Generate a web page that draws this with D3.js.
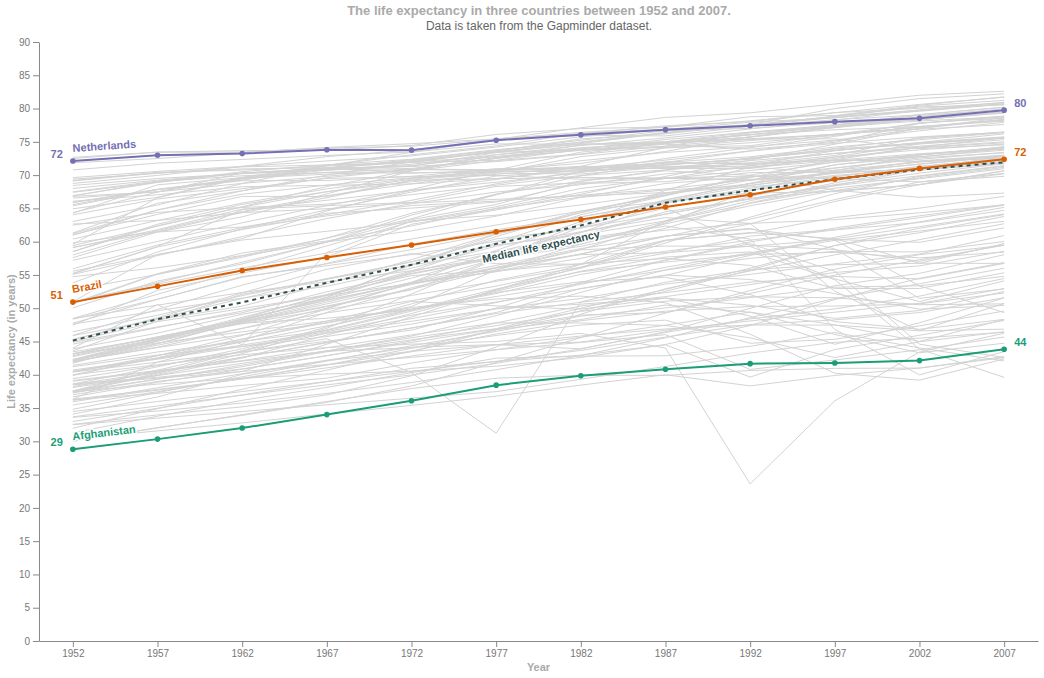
<!DOCTYPE html>
<html>
<head>
<meta charset="utf-8">
<script src="https://cdn.jsdelivr.net/npm/d3@7"></script>
<style>
body{margin:0;background:#fff;font-family:"Liberation Sans",Arial,sans-serif;}
.axis path,.axis line{stroke:#888;}
.axis text{fill:#777;font-size:10px;font-family:"Liberation Sans",Arial,sans-serif;}
.halo{paint-order:stroke;stroke:#fff;stroke-width:3px;stroke-linejoin:round;}
</style>
</head>
<body>
<svg id="chart" width="1044" height="678"></svg>
<script>
/* data: gapminder life expectancy */
var years=[1952,1957,1962,1967,1972,1977,1982,1987,1992,1997,2002,2007];

var countries=["Afghanistan","Albania","Algeria","Angola","Argentina","Australia","Austria","Bahrain","Bangladesh","Belgium","Benin","Bolivia","Bosnia and Herzegovina","Botswana","Brazil","Bulgaria","Burkina Faso","Burundi","Cambodia","Cameroon","Canada","Central African Republic","Chad","Chile","China","Colombia","Comoros","Congo, Dem. Rep.","Congo, Rep.","Costa Rica","Cote d'Ivoire","Croatia","Cuba","Czech Republic","Denmark","Djibouti","Dominican Republic","Ecuador","Egypt","El Salvador","Equatorial Guinea","Eritrea","Ethiopia","Finland","France","Gabon","Gambia","Germany","Ghana","Greece","Guatemala","Guinea","Guinea-Bissau","Haiti","Honduras","Hong Kong, China","Hungary","Iceland","India","Indonesia","Iran","Iraq","Ireland","Israel","Italy","Jamaica","Japan","Jordan","Kenya","Korea, Dem. Rep.","Korea, Rep.","Kuwait","Lebanon","Lesotho","Liberia","Libya","Madagascar","Malawi","Malaysia","Mali","Mauritania","Mauritius","Mexico","Mongolia","Montenegro","Morocco","Mozambique","Myanmar","Namibia","Nepal","Netherlands","New Zealand","Nicaragua","Niger","Nigeria","Norway","Oman","Pakistan","Panama","Paraguay","Peru","Philippines","Poland","Portugal","Puerto Rico","Reunion","Romania","Rwanda","Sao Tome and Principe","Saudi Arabia","Senegal","Serbia","Sierra Leone","Singapore","Slovak Republic","Slovenia","Somalia","South Africa","Spain","Sri Lanka","Sudan","Swaziland","Sweden","Switzerland","Syria","Taiwan","Tanzania","Thailand","Togo","Trinidad and Tobago","Tunisia","Turkey","Uganda","United Kingdom","United States","Uruguay","Venezuela","Vietnam","West Bank and Gaza","Yemen, Rep.","Zambia","Zimbabwe"];

var lifeExp=[
[28.801,30.332,31.997,34.02,36.088,38.438,39.854,40.822,41.674,41.763,42.129,43.828],
[55.23,59.28,64.82,66.22,67.69,68.93,70.42,72,71.581,72.95,75.651,76.423],
[43.077,45.685,48.303,51.407,54.518,58.014,61.368,65.799,67.744,69.152,70.994,72.301],
[30.015,31.999,34,35.985,37.928,39.483,39.942,39.906,40.647,40.963,41.003,42.731],
[62.485,64.399,65.142,65.634,67.065,68.481,69.942,70.774,71.868,73.275,74.34,75.32],
[69.12,70.33,70.93,71.1,71.93,73.49,74.74,76.32,77.56,78.83,80.37,81.235],
[66.8,67.48,69.54,70.14,70.63,72.17,73.18,74.94,76.04,77.51,78.98,79.829],
[50.939,53.832,56.923,59.923,63.3,65.593,69.052,70.75,72.601,73.925,74.795,75.635],
[37.484,39.348,41.216,43.453,45.252,46.923,50.009,52.819,56.018,59.412,62.013,64.062],
[68,69.24,70.25,70.94,71.44,72.8,73.93,75.35,76.46,77.53,78.32,79.441],
[38.223,40.358,42.618,44.885,47.014,49.19,50.904,52.337,53.919,54.777,54.406,56.728],
[40.414,41.89,43.428,45.032,46.714,50.023,53.859,57.251,59.957,62.05,63.883,65.554],
[53.82,58.45,61.93,64.79,67.45,69.86,70.69,71.14,72.178,73.244,74.09,74.852],
[47.622,49.618,51.52,53.298,56.024,59.319,61.484,63.622,62.745,52.556,46.634,50.728],
[50.917,53.285,55.665,57.632,59.504,61.489,63.336,65.205,67.057,69.388,71.006,72.39],
[59.6,66.61,69.51,70.42,70.9,70.81,71.08,71.34,71.19,70.32,72.14,73.005],
[31.975,34.906,37.814,40.697,43.591,46.137,48.122,49.557,50.26,50.324,50.65,52.295],
[39.031,40.533,42.045,43.548,44.057,45.91,47.471,48.211,44.736,45.326,47.36,49.58],
[39.417,41.366,43.415,45.415,40.317,31.22,50.957,53.914,55.803,56.534,56.752,59.723],
[38.523,40.428,42.643,44.799,47.049,49.355,52.961,54.985,54.314,52.199,49.856,50.43],
[68.75,69.96,71.3,72.13,72.88,74.21,75.76,76.86,77.95,78.61,79.77,80.653],
[35.463,37.464,39.475,41.478,43.457,46.775,48.295,50.485,49.396,46.066,43.308,44.741],
[38.092,39.881,41.716,43.601,45.569,47.383,49.517,51.051,51.724,51.573,50.525,50.651],
[54.745,56.074,57.924,60.523,63.441,67.052,70.565,72.492,74.126,75.816,77.86,78.553],
[44,50.549,44.501,58.381,63.119,63.967,65.525,67.274,68.69,70.426,72.028,72.961],
[50.643,55.118,57.863,59.963,61.623,63.837,66.653,67.768,68.421,70.313,71.682,72.889],
[40.715,42.46,44.467,46.472,48.944,50.939,52.933,54.926,57.939,60.66,62.974,65.152],
[39.143,40.652,42.122,44.056,45.989,47.804,47.784,47.412,45.548,42.587,44.966,46.462],
[42.111,45.053,48.435,52.04,54.907,55.625,56.695,57.47,56.433,52.962,52.97,55.322],
[57.206,60.026,62.842,65.424,67.849,70.75,73.45,74.752,75.713,77.26,78.123,78.782],
[40.477,42.469,44.93,47.35,49.801,52.374,53.983,54.655,52.044,47.991,46.832,48.328],
[61.21,64.77,67.13,68.5,69.61,70.64,70.46,71.52,72.527,73.68,74.876,75.748],
[59.421,62.325,65.246,68.29,70.723,72.649,73.717,74.174,74.414,76.151,77.158,78.273],
[66.87,69.03,69.9,70.38,70.29,70.71,70.96,71.58,72.4,74.01,75.51,76.486],
[70.78,71.81,72.35,72.96,73.47,74.69,74.63,74.8,75.33,76.11,77.18,78.332],
[34.812,37.328,39.693,42.074,44.366,46.519,48.812,50.04,51.604,53.157,53.373,54.791],
[45.928,49.828,53.459,56.751,59.631,61.788,63.727,66.046,68.457,69.957,70.847,72.235],
[48.357,51.356,54.64,56.678,58.796,61.31,64.342,67.231,69.613,72.312,74.173,74.994],
[41.893,44.444,46.992,49.293,51.137,53.319,56.006,59.797,63.674,67.217,69.806,71.338],
[45.262,48.57,52.307,55.855,58.207,56.696,56.604,63.154,66.798,69.535,70.734,71.878],
[34.482,35.983,37.485,38.987,40.516,42.024,43.662,45.664,47.545,48.245,49.348,51.579],
[35.928,38.047,40.158,42.189,44.142,44.535,43.89,46.453,49.991,53.378,55.24,58.04],
[34.078,36.667,40.059,42.115,43.515,44.51,44.916,46.684,48.091,49.402,50.725,52.947],
[66.55,67.49,68.75,69.83,70.87,72.52,74.55,74.83,75.7,77.13,78.37,79.313],
[67.41,68.93,70.51,71.55,72.38,73.83,74.89,76.34,77.46,78.64,79.59,80.657],
[37.003,38.999,40.489,44.598,48.69,52.79,56.564,60.19,61.366,60.461,56.761,56.735],
[30,32.065,33.896,35.857,38.308,41.842,45.58,49.265,52.644,55.861,58.041,59.448],
[67.5,69.1,70.3,70.8,71,72.5,73.8,74.847,76.07,77.34,78.67,79.406],
[43.149,44.779,46.452,48.072,49.875,51.756,53.744,55.729,57.501,58.556,58.453,60.022],
[65.86,67.86,69.51,71,72.34,73.68,75.24,76.67,77.03,77.869,78.256,79.483],
[42.023,44.142,46.954,50.016,53.738,56.029,58.137,60.782,63.373,66.322,68.978,70.259],
[33.609,34.558,35.753,37.197,38.842,40.762,42.891,45.552,48.576,51.455,53.676,56.007],
[32.5,33.489,34.488,35.492,36.486,37.465,39.327,41.245,43.266,44.873,45.504,46.388],
[37.579,40.696,43.59,46.243,48.042,49.923,51.461,53.636,55.089,56.671,58.137,60.916],
[41.912,44.665,48.041,50.924,53.884,57.402,60.909,64.492,66.399,67.659,68.565,70.198],
[60.96,64.75,67.65,70,72,73.6,75.45,76.2,77.601,80,81.495,82.208],
[64.03,66.41,67.96,69.5,69.76,69.95,69.39,69.58,69.17,71.04,72.59,73.338],
[72.49,73.47,73.68,73.73,74.46,76.11,76.99,77.23,78.77,78.95,80.5,81.757],
[37.373,40.249,43.605,47.193,50.651,54.208,56.596,58.553,60.223,61.765,62.879,64.698],
[37.468,39.918,42.518,45.964,49.203,52.702,56.159,60.137,62.681,66.041,68.588,70.65],
[44.869,47.181,49.325,52.469,55.234,57.702,59.62,63.04,65.742,68.042,69.451,70.964],
[45.32,48.437,51.457,54.459,56.95,60.413,62.038,65.044,59.461,58.811,57.046,59.545],
[66.91,68.9,70.29,71.08,71.28,72.03,73.1,74.36,75.467,76.122,77.783,78.885],
[65.39,67.84,69.39,70.75,71.63,73.06,74.45,75.6,76.93,78.269,79.696,80.745],
[65.94,67.81,69.24,71.06,72.19,73.48,74.98,76.42,77.44,78.82,80.24,80.546],
[58.53,62.61,65.61,67.51,69,70.11,71.21,71.77,71.766,72.262,72.047,72.567],
[63.03,65.5,68.73,71.43,73.42,75.38,77.11,78.67,79.36,80.69,82,82.603],
[43.158,45.669,48.126,51.629,56.528,61.134,63.739,65.869,68.015,69.772,71.263,72.535],
[42.27,44.686,47.949,50.654,53.559,56.155,58.766,59.339,59.285,54.407,50.992,54.11],
[50.056,54.081,56.656,59.942,63.983,67.159,69.1,70.647,69.978,67.727,66.662,67.297],
[47.453,52.681,55.292,57.716,62.612,64.766,67.123,69.81,72.244,74.647,77.045,78.623],
[55.565,58.033,60.47,64.624,67.712,69.343,71.309,74.174,75.19,76.156,76.904,77.588],
[55.928,59.489,62.094,63.87,65.421,66.099,66.983,67.926,69.292,70.265,71.028,71.993],
[42.138,45.047,47.747,48.492,49.767,52.208,55.078,57.18,59.685,55.558,44.593,42.592],
[38.48,39.486,40.502,41.536,42.614,43.764,44.852,46.027,40.802,42.221,43.753,45.678],
[42.723,45.289,47.808,50.227,52.773,57.442,62.155,66.234,68.755,71.555,72.737,73.952],
[36.681,38.865,40.848,42.881,44.851,46.881,48.969,49.35,52.214,54.978,57.286,59.443],
[36.256,37.207,38.41,39.487,41.766,43.767,45.642,47.457,49.42,47.495,45.009,48.303],
[48.463,52.102,55.737,59.371,63.01,65.256,68,69.5,70.693,71.938,73.044,74.241],
[33.685,35.307,36.936,38.487,39.977,41.714,43.916,46.364,48.388,49.903,51.818,54.467],
[40.543,42.338,44.248,46.289,48.437,50.852,53.599,56.145,58.333,60.43,62.247,64.164],
[50.986,58.089,60.246,61.557,62.944,64.93,66.711,68.74,69.745,70.736,71.954,72.801],
[50.789,55.19,58.299,60.11,62.361,65.032,67.405,69.498,71.455,73.67,74.902,76.195],
[42.244,45.248,48.251,51.253,53.754,55.491,57.489,60.222,61.271,63.625,65.033,66.803],
[59.164,61.448,63.728,67.178,70.636,73.066,74.101,74.865,75.435,75.445,73.981,74.543],
[42.873,45.423,47.924,50.335,52.862,55.73,59.65,62.677,65.393,67.66,69.615,71.164],
[31.286,33.779,36.161,38.113,40.328,42.495,42.795,42.861,44.284,46.344,44.026,42.082],
[36.319,41.905,45.108,49.379,53.07,56.059,58.056,58.339,59.32,60.328,59.908,62.069],
[41.725,45.226,48.386,51.159,53.867,56.437,58.968,60.835,61.999,58.909,51.479,52.906],
[36.157,37.686,39.393,41.472,43.971,46.748,49.594,52.537,55.727,59.426,61.34,63.785],
[72.13,72.99,73.23,73.82,73.75,75.24,76.05,76.83,77.42,78.03,78.53,79.762],
[69.39,70.26,71.24,71.52,71.89,72.22,73.84,74.32,76.33,77.55,79.11,80.204],
[42.314,45.432,48.632,51.884,55.151,57.47,59.298,62.008,65.843,68.426,70.836,72.899],
[37.444,38.598,39.487,40.118,40.546,41.291,42.598,44.555,47.391,51.313,54.496,56.867],
[36.324,37.802,39.36,41.04,42.821,44.514,45.826,46.886,47.472,47.464,46.608,46.859],
[72.67,73.44,73.47,74.08,74.34,75.37,75.97,75.89,77.32,78.32,79.05,80.196],
[37.578,40.08,43.165,46.988,52.143,57.367,62.728,67.734,71.197,72.499,74.193,75.64],
[43.436,45.557,47.67,49.8,51.929,54.043,56.158,58.245,60.838,61.818,63.61,65.483],
[55.191,59.201,61.817,64.071,66.216,68.681,70.472,71.523,72.462,73.738,74.712,75.537],
[62.649,63.196,64.361,64.951,65.815,66.353,66.874,67.378,68.225,69.4,70.755,71.752],
[43.902,46.263,49.096,51.445,55.448,58.447,61.406,64.134,66.458,68.386,69.906,71.421],
[47.752,51.334,54.757,56.393,58.065,60.06,62.082,64.151,66.458,68.564,70.303,71.688],
[61.31,65.77,67.64,69.61,70.85,70.67,71.32,70.98,70.99,72.75,74.67,75.563],
[59.82,61.51,64.39,66.6,69.26,70.41,72.77,74.06,74.86,75.97,77.29,78.098],
[64.28,68.54,69.62,71.1,72.16,73.44,73.75,74.63,73.911,74.917,77.778,78.746],
[52.724,55.09,57.666,60.542,64.274,67.064,69.885,71.913,73.615,74.772,75.744,76.442],
[61.05,64.1,66.8,66.8,69.21,69.46,69.66,69.53,69.36,69.72,71.322,72.476],
[40,41.5,43,44.1,44.6,45,46.218,44.02,23.599,36.087,43.413,46.242],
[46.471,48.945,51.893,54.425,56.48,58.55,60.351,61.728,62.742,63.306,64.337,65.528],
[39.875,42.868,45.914,49.901,53.886,58.69,63.012,66.295,68.768,70.533,71.626,72.777],
[37.278,39.329,41.454,43.563,45.815,48.879,52.379,55.769,58.196,60.187,61.6,63.062],
[57.996,61.685,64.531,66.914,68.7,70.3,70.162,71.218,71.659,72.232,73.213,74.002],
[30.331,31.57,32.767,34.113,35.4,36.788,38.445,40.006,38.333,39.897,41.012,42.568],
[60.396,63.179,65.798,67.946,69.521,70.795,71.76,73.56,75.788,77.158,78.77,79.972],
[64.36,67.45,70.33,70.98,70.35,70.45,70.8,71.08,71.38,72.71,73.8,74.663],
[65.57,67.85,69.15,69.18,69.82,70.97,71.063,72.25,73.64,75.13,76.66,77.926],
[32.978,34.977,36.981,38.977,40.973,41.974,42.955,44.501,39.658,43.795,45.936,48.159],
[45.009,47.985,49.951,51.927,53.696,55.527,58.161,60.834,61.888,60.236,53.365,49.339],
[64.94,66.66,69.69,71.44,73.06,74.39,76.3,76.9,77.57,78.77,79.78,80.941],
[57.593,61.456,62.192,64.266,65.042,65.949,68.757,69.011,70.379,70.457,70.815,72.396],
[38.635,39.624,40.87,42.858,45.083,47.8,50.338,51.744,53.556,55.373,56.369,58.556],
[41.407,43.424,44.992,46.633,49.552,52.537,55.561,57.678,58.474,54.289,43.869,39.613],
[71.86,72.49,73.37,74.16,74.72,75.44,76.42,77.19,78.16,79.39,80.04,80.884],
[69.62,70.56,71.32,72.77,73.78,75.39,76.21,77.41,78.03,79.37,80.62,81.701],
[45.883,48.284,50.305,53.655,57.296,61.195,64.59,66.974,69.249,71.527,73.053,74.143],
[58.5,62.4,65.2,67.5,69.39,70.59,72.16,73.4,74.26,75.25,76.99,78.4],
[41.215,42.974,44.246,45.757,47.62,49.919,50.608,51.535,50.44,48.466,49.651,52.517],
[50.848,53.63,56.061,58.285,60.405,62.494,64.597,66.084,67.298,67.521,68.564,70.616],
[38.596,41.208,43.922,46.769,49.759,52.887,55.471,56.941,58.061,58.39,57.561,58.42],
[59.1,61.8,64.9,65.4,65.9,68.3,68.832,69.582,69.862,69.465,68.976,69.819],
[44.6,47.1,49.579,52.053,55.602,59.837,64.048,66.894,70.001,71.973,73.042,73.923],
[43.585,48.079,52.098,54.336,57.005,59.507,61.036,63.108,66.146,68.835,70.845,71.777],
[39.978,42.571,45.344,48.051,51.016,50.35,49.849,51.509,48.825,44.578,47.813,51.542],
[69.18,70.42,70.76,71.36,72.01,72.76,74.04,75.007,76.42,77.218,78.471,79.425],
[68.44,69.49,70.21,70.76,71.34,73.38,74.65,75.02,76.09,76.81,77.31,78.242],
[66.071,67.044,68.253,68.468,68.673,69.481,70.805,71.918,72.752,74.223,75.307,76.384],
[55.088,57.907,60.77,63.479,65.712,67.456,68.557,70.19,71.15,72.146,72.766,73.747],
[40.412,42.887,45.363,47.838,50.254,55.764,58.816,62.82,67.662,70.672,73.017,74.249],
[43.16,45.671,48.127,51.631,56.532,60.765,64.406,67.046,69.718,71.096,72.37,73.422],
[32.548,33.97,35.18,36.984,39.848,44.175,49.113,52.922,55.599,58.02,60.308,62.698],
[42.038,44.077,46.023,47.768,50.107,51.386,51.821,50.821,46.1,40.238,39.193,42.384],
[48.451,50.469,52.358,53.995,55.635,57.674,60.363,62.351,60.377,46.809,39.989,43.487]
];

// 高亮国家
var highlight=["Netherlands","Brazil","Afghanistan"];
var highlightColor=["#7570b3","#d95f02","#1b9e77"];

var yTicks=d3.range(0,91,5);

/* layout */
var W=1044,H=678;
var margin={top:42,right:6,bottom:37,left:39};
var innerW=W-margin.left-margin.right;
var innerH=H-margin.top-margin.bottom;

var svg=d3.select("#chart");
var g=svg.append("g").attr("transform","translate("+margin.left+","+margin.top+")");

var x=d3.scaleLinear().domain([1950,2009]).range([0,innerW]);
var y=d3.scaleLinear().domain([0,90]).range([innerH,0]);

var line=d3.line()
	.x(function(d,i){return x(years[i]);})
	.y(function(d){return y(d);});

// 中位数
var median=years.map(function(yr,i){
	return d3.median(lifeExp,function(row){return row[i];});
});

// axes
g.append("g").attr("class","axis")
	.attr("transform","translate(0,"+innerH+")")
	.call(d3.axisBottom(x).tickValues(years).tickFormat(d3.format("d")).tickSizeOuter(0));
g.append("g").attr("class","axis")
	.call(d3.axisLeft(y).tickValues(yTicks).tickSizeOuter(0));

// 背景线
g.append("g").selectAll("path")
	.data(lifeExp)
	.enter().append("path")
	.attr("d",line)
	.style("fill","none")
	.style("stroke","#d3d3d3")
	.style("stroke-width","1px");

// 中位线
g.append("path")
	.attr("d",line(median))
	.style("fill","none")
	.style("stroke","#2f4f4f")
	.style("stroke-width","2px")
	.attr("stroke-dasharray","4 4");

function segAngle(vals,i){
	var dx=x(years[i+1])-x(years[i]);
	var dy=y(vals[i+1])-y(vals[i]);
	return Math.atan2(dy,dx)*180/Math.PI;
}

// median label between 1977 and 1982
var mi=5;
var mx=(x(years[mi])+x(years[mi+1]))/2, my=(y(median[mi])+y(median[mi+1]))/2;
g.append("text")
	.attr("class","halo")
	.attr("transform","translate("+mx+","+my+") rotate("+segAngle(median,mi)+")")
	.attr("dy",16)
	.attr("text-anchor","middle")
	.style("fill","#2f4f4f")
	.style("font-size","11px")
	.style("font-weight","bold")
	.text("Median life expectancy");

// 高亮国家
for(var k=0;k<highlight.length;k++){
	var vals=lifeExp[countries.indexOf(highlight[k])];
	var col=highlightColor[k];
	g.append("path")
		.attr("d",line(vals))
		.style("fill","none")
		.style("stroke",col)
		.style("stroke-width","2px");
	g.append("g").selectAll("circle")
		.data(vals)
		.enter().append("circle")
		.attr("cx",function(d,i){return x(years[i]);})
		.attr("cy",function(d){return y(d);})
		.attr("r",2.8)
		.style("fill",col);
	// 名称
	g.append("text")
		.attr("class","halo")
		.attr("transform","translate("+x(years[0])+","+(y(vals[0])-9)+") rotate("+segAngle(vals,0)+")")
		.style("fill",col)
		.style("font-size","11px")
		.style("font-weight","bold")
		.text(highlight[k]);
	// 起止数值
	g.append("text")
		.attr("x",x(years[0])-10)
		.attr("y",y(vals[0])-7)
		.attr("dy","0.35em")
		.attr("text-anchor","end")
		.style("fill",col)
		.style("font-size","11px")
		.style("font-weight","bold")
		.text(Math.round(vals[0]));
	g.append("text")
		.attr("x",x(years[years.length-1])+10)
		.attr("y",y(vals[vals.length-1])-7)
		.attr("dy","0.35em")
		.style("fill",col)
		.style("font-size","11px")
		.style("font-weight","bold")
		.text(Math.round(vals[vals.length-1]));
}

// titles
svg.append("text")
	.attr("x",539).attr("y",15)
	.attr("text-anchor","middle")
	.style("fill","#aaa")
	.style("font-size","13px")
	.style("font-weight","bold")
	.text("The life expectancy in three countries between 1952 and 2007.");
svg.append("text")
	.attr("x",539).attr("y",30)
	.attr("text-anchor","middle")
	.style("fill","#666")
	.style("font-size","12px")
	.text("Data is taken from the Gapminder dataset.");

svg.append("text")
	.attr("x",margin.left+innerW/2).attr("y",671)
	.attr("text-anchor","middle")
	.style("fill","#aaa")
	.style("font-size","11px")
	.style("font-weight","bold")
	.text("Year");
svg.append("text")
	.attr("transform","translate(15,"+(margin.top+innerH/2)+") rotate(-90)")
	.attr("text-anchor","middle")
	.style("fill","#aaa")
	.style("font-size","11px")
	.style("font-weight","bold")
	.text("Life expectancy (in years)");
</script>
</body>
</html>
